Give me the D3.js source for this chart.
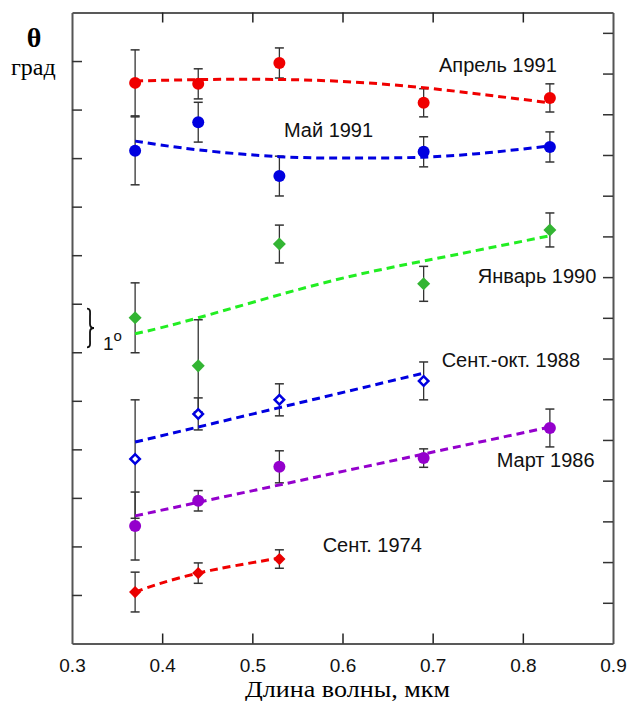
<!DOCTYPE html>
<html>
<head>
<meta charset="utf-8">
<script src="https://cdn.jsdelivr.net/npm/d3@7"></script>
<style>
  body { margin: 0; background: #fff; }
  text { font-family: "Liberation Sans", Arial, sans-serif; }
</style>
</head>
<body>
<div id="chart"></div>
<script>
// wavelengths of the measurements, mkm
let wavelengths = [0.37, 0.44, 0.53, 0.69, 0.83];

// theta values (deg, arbitrary offset per series) and error half-widths
let april1991 = [11.55, 11.53, 11.96, 11.14, 11.24];
let april1991_err = [0.68, 0.31, 0.31, 0.29, 0.29];
let may1991 = [10.15, 10.74, 9.63, 10.13, 10.23];
let may1991_err = [0.70, 0.41, 0.41, 0.31, 0.31];
let jan1990 = [6.71, 5.72, 8.23, 7.41, 8.52];
let jan1990_err = [0.72, 0.95, 0.39, 0.36, 0.35];
let sep1988 = [3.80, 4.73, 5.02, 5.41];
let sep1988_err = [1.22, 0.33, 0.33, 0.39];
let mar1986 = [2.42, 2.94, 3.64, 3.82, 4.44];
let mar1986_err = [0.70, 0.21, 0.33, 0.19, 0.39];
let sep1974 = [1.06, 1.45, 1.74];
let sep1974_err = [0.41, 0.21, 0.19];

// fitted curves: [wavelength, theta]
let april1991_fit = [[0.37, 11.59], [0.45, 11.62], [0.53, 11.62], [0.61, 11.57], [0.69, 11.45], [0.76, 11.30], [0.83, 11.14]];
let may1991_fit = [[0.37, 10.35], [0.44, 10.17], [0.53, 10.03], [0.61, 10.00], [0.69, 10.02], [0.76, 10.11], [0.83, 10.25]];
let jan1990_fit = [[0.37, 6.38], [0.44, 6.71], [0.575, 7.41], [0.69, 7.88], [0.83, 8.40]];
let sep1988_fit = [[0.37, 4.15], [0.69, 5.57]];
let mar1986_fit = [[0.37, 2.63], [0.83, 4.46]];
let sep1974_fit = [[0.37, 1.06], [0.40, 1.25], [0.44, 1.45], [0.48, 1.60], [0.53, 1.76]];

let series_names = ["Апрель 1991", "Май 1991", "Январь 1990", "Сент.-окт. 1988", "Март 1986", "Сент. 1974"];
// label anchor (text start, baseline) in data units
let label_pos = [[0.707, 11.77], [0.535, 10.43], [0.750, 7.43], [0.710, 5.70], [0.771, 3.64], [0.578, 1.89]];

let x_ticks = [0.3, 0.4, 0.5, 0.6, 0.7, 0.8, 0.9];
let left_ticks = d3.range(1, 13);
let right_ticks = d3.range(1, 16);

let series = [
    {name: series_names[0], vals: april1991, err: april1991_err, fit: april1991_fit, marker: "circle", color: "#f00000", line: "#f00000"},
    {name: series_names[1], vals: may1991, err: may1991_err, fit: may1991_fit, marker: "circle", color: "#0000e0", line: "#0000e0"},
    {name: series_names[2], vals: jan1990, err: jan1990_err, fit: jan1990_fit, marker: "diamond", color: "#33b533", line: "#22ee22"},
    {name: series_names[3], vals: sep1988, err: sep1988_err, fit: sep1988_fit, marker: "open", color: "#0000e0", line: "#0000e0"},
    {name: series_names[4], vals: mar1986, err: mar1986_err, fit: mar1986_fit, marker: "circle", color: "#9400cc", line: "#9400cc"},
    {name: series_names[5], vals: sep1974, err: sep1974_err, fit: sep1974_fit, marker: "diamond_s", color: "#e80000", line: "#f00000"}
];

let width = 627, height = 701;
let m_left = 72, m_right = 613, m_top = 12.5, m_bottom = 643.5;

let svg = d3.select("#chart").append("svg")
    .attr("width", width)
    .attr("height", height);

let x = d3.scaleLinear().domain([0.3, 0.9]).range([m_left, m_right]);
let y = d3.scaleLinear().domain([0, 13]).range([m_bottom, m_top]);
let y2 = d3.scaleLinear().domain([0, 15.5]).range([m_bottom, m_top]);

// axes
svg.append("g")
    .attr("transform", `translate(0,${m_bottom})`)
    .call(d3.axisBottom(x).tickValues(x_ticks).tickSizeInner(-10).tickSizeOuter(0).tickPadding(15).tickFormat(d3.format(".1f")))
    .call(g => g.select(".domain").attr("stroke", "#222").attr("stroke-width", 1.5))
    .call(g => g.selectAll(".tick line").attr("stroke", "#222").attr("stroke-width", 1.5)
        .attr("display", d => (d == 0.3 || d == 0.9) ? "none" : null))
    .call(g => g.selectAll(".tick text").attr("font-size", 19).attr("fill", "#111")
        .attr("font-family", "Liberation Sans, Arial, sans-serif"));

svg.append("g")
    .attr("transform", `translate(0,${m_top})`)
    .call(d3.axisTop(x).tickValues(x_ticks.slice(1, -1)).tickSizeInner(-10).tickSizeOuter(0).tickFormat(""))
    .call(g => g.select(".domain").attr("stroke", "#222").attr("stroke-width", 1.5))
    .call(g => g.selectAll(".tick line").attr("stroke", "#222").attr("stroke-width", 1.5));

svg.append("g")
    .attr("transform", `translate(${m_left},0)`)
    .call(d3.axisLeft(y).tickValues(left_ticks).tickSizeInner(-10).tickSizeOuter(0).tickFormat(""))
    .call(g => g.select(".domain").attr("stroke", "#555").attr("stroke-width", 2))
    .call(g => g.selectAll(".tick line").attr("stroke", "#333").attr("stroke-width", 1.5));

svg.append("g")
    .attr("transform", `translate(${m_right},0)`)
    .call(d3.axisRight(y2).tickValues(right_ticks).tickSizeInner(-10).tickSizeOuter(0).tickFormat(""))
    .call(g => g.select(".domain").attr("stroke", "#555").attr("stroke-width", 2))
    .call(g => g.selectAll(".tick line").attr("stroke", "#333").attr("stroke-width", 1.5));

// error bars
let bars = svg.append("g");
series.forEach(function(s){
    s.vals.forEach(function(v, i){
        let cx = x(wavelengths[i]);
        let y0 = y(v - s.err[i]), y1 = y(v + s.err[i]);
        bars.append("line").attr("x1", cx).attr("x2", cx).attr("y1", y0).attr("y2", y1)
            .attr("stroke", "#333").attr("stroke-width", 1.3);
        [y0, y1].forEach(function(yy){
            bars.append("line").attr("x1", cx - 4.5).attr("x2", cx + 4.5).attr("y1", yy).attr("y2", yy)
                .attr("stroke", "#333").attr("stroke-width", 1.5);
        });
    });
});

// markers
let marks = svg.append("g");
series.forEach(function(s){
    s.vals.forEach(function(v, i){
        let cx = x(wavelengths[i]), cy = y(v);
        if(s.marker == "circle"){
            marks.append("circle").attr("cx", cx).attr("cy", cy).attr("r", 6).attr("fill", s.color);
        } else if(s.marker == "open"){
            marks.append("path").attr("d", d3.symbol(d3.symbolSquare, 45)())
                .attr("transform", `translate(${cx},${cy}) rotate(45)`)
                .attr("fill", "white").attr("stroke", s.color).attr("stroke-width", 2.5);
        } else {
            let size = s.marker == "diamond" ? 85 : 74;
            marks.append("path").attr("d", d3.symbol(d3.symbolSquare, size)())
                .attr("transform", `translate(${cx},${cy}) rotate(45)`)
                .attr("fill", s.color);
        }
    });
});

// fitted dashed curves
let line = d3.line().x(d => x(d[0])).y(d => y(d[1])).curve(d3.curveNatural);
svg.append("g").selectAll("path")
    .data(series)
    .join("path")
    .attr("d", d => line(d.fit))
    .attr("fill", "none")
    .attr("stroke", d => d.line)
    .attr("stroke-width", 3)
    .attr("stroke-dasharray", "8,5");

// series labels
svg.append("g").selectAll("text")
    .data(series)
    .join("text")
    .attr("x", (d, i) => x(label_pos[i][0]))
    .attr("y", (d, i) => y(label_pos[i][1]))
    .attr("font-size", 20)
    .attr("fill", "#111")
    .text(d => d.name);

// 1 degree brace between left ticks 6 and 7
let bx = 87, by0 = y(6.9), by1 = y(6.1), bm = (by0 + by1) / 2;
svg.append("path")
    .attr("d", `M${bx},${by0} C${bx + 4},${by0} ${bx + 3},${by0 + 4} ${bx + 3},${by0 + 8}
        L${bx + 3},${bm - 4} C${bx + 3},${bm - 1} ${bx + 5},${bm} ${bx + 7},${bm}
        C${bx + 5},${bm} ${bx + 3},${bm + 1} ${bx + 3},${bm + 4}
        L${bx + 3},${by1 - 8} C${bx + 3},${by1 - 4} ${bx + 4},${by1} ${bx},${by1}`)
    .attr("fill", "none").attr("stroke", "#111").attr("stroke-width", 1.8);

let deg = svg.append("text")
    .attr("x", 103).attr("y", y(6.05))
    .attr("font-size", 19).attr("fill", "#111");
deg.append("tspan").text("1");
deg.append("tspan").attr("dy", -9).attr("font-size", 15).text("o");

// axis titles
svg.append("text")
    .attr("x", 34).attr("y", 47)
    .attr("text-anchor", "middle")
    .style("font-family", "'Liberation Serif', 'Times New Roman', serif")
    .attr("font-weight", "bold")
    .attr("font-size", 28)
    .text("θ");

svg.append("text")
    .attr("x", 11).attr("y", 75)
    .style("font-family", "'Liberation Serif', 'Times New Roman', serif")
    .attr("font-size", 24)
    .text("град");

svg.append("text")
    .attr("x", 245).attr("y", 697)
    .style("font-family", "'Liberation Serif', 'Times New Roman', serif")
    .attr("font-size", 24)
    .attr("textLength", 205)
    .attr("lengthAdjust", "spacingAndGlyphs")
    .text("Длина волны, мкм");
</script>
</body>
</html>
